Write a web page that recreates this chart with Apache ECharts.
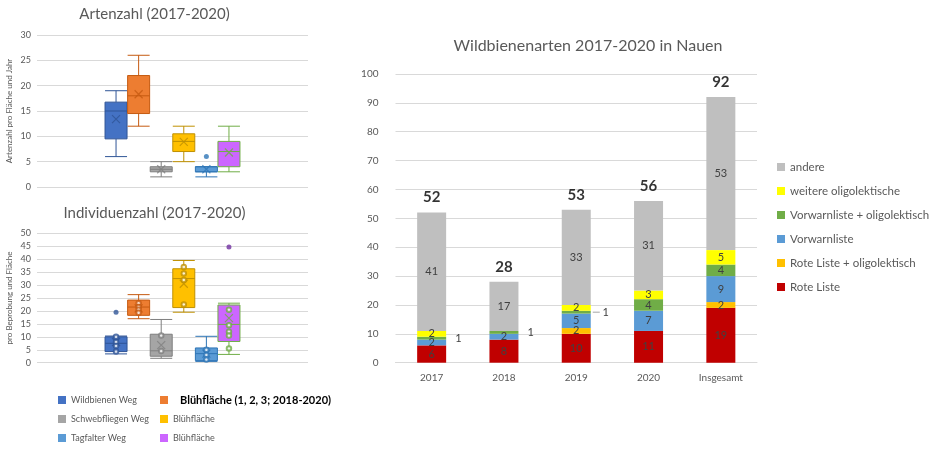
<!DOCTYPE html>
<html><head><meta charset="utf-8">
<script src="https://cdn.jsdelivr.net/npm/echarts@6/dist/echarts.min.js"></script>
<style>html,body{margin:0;padding:0;background:#fff}#c{width:934px;height:454px}</style>
</head><body><div id="c"></div><script>
// ---------- left: box plots ----------
const boxNames = ['Wildbienen Weg','Blühfläche (1, 2, 3; 2018-2020)','Schwebfliegen Weg','Blühfläche','Tagfalter Weg','Blühfläche'];
const boxColors = ['#4472c4','#ed7d31','#a5a5a5','#ffc000','#5b9bd5','#cc66ff'];
const boxBorders = ['#2f5597','#c55a11','#7f7f7f','#bf9000','#2e75b6','#70ad47'];
// [min, Q1, median, Q3, max]
const artenBoxes = [[6,9.5,15,16.75,19],[12,14.5,18,22,26],[2,3,3.5,4,5],[5,7,9,10.5,12],[2,3,3,4,4],[3,4,7,9,12]];
const artenMeans = [13.4,18.3,3.5,8.9,3.5,6.8];
const artenOutliers = [[],[],[],[],[6],[]];
const artenPoints = [[],[],[],[],[],[]];
const indivBoxes = [[3.4,4.3,7.5,10,10.3],[17,18.3,21.5,24.2,26.3],[1.7,2.5,4.6,11,16.7],[19.5,21.3,32.5,36.3,39.5],[0.5,0.8,3.5,5.7,10.2],[3.2,8.2,14.8,22.3,23]];
const indivMeans = [8,21,6.8,30.5,3.5,17.2];
const indivOutliers = [[19.5],[],[],[],[],[44.7]];
const indivPoints = [[10,8,6.5,4.3],[23,21.5,20.5,19.3],[10.5,4.5],[37,34.5,32,22.5],[5,3,1.2],[20.5,14.5,12,10.5,5.5]];

// ---------- right: stacked bars ----------
const years = ['2017','2018','2019','2020','Insgesamt'];
const rotListe = [6,8,10,11,19];
const rotOligo = [0,0,2,0,2];
const vorwarn = [2,2,5,7,9];
const vorwarnOligo = [1,1,1,4,4];
const weitereOligo = [2,0,2,3,5];
const andere = [41,17,33,31,53];
const totals = [52,28,53,56,92];

const SLOTS = 12, FIRST = 3;
const slotCats = Array.from({length:SLOTS},(_,i)=>'s'+i);
const keys = boxNames.map((n,i)=>n+'#'+i);
const strip = n => n.replace(/#\d+$/,'');
const GRAY = '#595959';
const FONT = 'Lato';

const xAxes = [], series = [];
const boxCharts = [
  {boxes: artenBoxes, means: artenMeans, outl: artenOutliers, pts: artenPoints},
  {boxes: indivBoxes, means: indivMeans, outl: indivOutliers, pts: indivPoints}
];
boxCharts.forEach((ch,g)=>{
  ch.boxes.forEach((b,k)=>{
    const ax = xAxes.length;
    xAxes.push({type:'category', gridIndex:g, data:slotCats, show:false, boundaryGap:true});
    const padded = slotCats.map((_,i)=> i===FIRST+k ? b : '-');
    series.push({type:'boxplot', name:keys[k], xAxisIndex:ax, yAxisIndex:g, data:padded,
      boxWidth:[22,22], silent:true,
      itemStyle:{color:boxColors[k], borderColor:boxBorders[k], borderWidth:1}});
    series.push({type:'scatter', xAxisIndex:ax, yAxisIndex:g, silent:true, z:5,
      data:[[FIRST+k, ch.means[k]]], symbol:'path://M0,0L10,10M10,0L0,10', symbolSize:8,
      itemStyle:{color:'none', borderColor:boxBorders[k], borderWidth:1.2}});
    if (ch.pts[k].length) series.push({type:'scatter', xAxisIndex:ax, yAxisIndex:g, silent:true, z:5,
      data:ch.pts[k].map(v=>[FIRST+k,v]), symbol:'emptyCircle', symbolSize:4.5,
      itemStyle:{color:boxBorders[k], borderWidth:1, opacity:0.8}});
    if (ch.outl[k].length) series.push({type:'scatter', xAxisIndex:ax, yAxisIndex:g, silent:true, z:5,
      data:ch.outl[k].map(v=>[FIRST+k,v]), symbol:'circle', symbolSize:5,
      itemStyle:{color:k===5?'#7030a0':boxBorders[k]}});
  });
});

const barAx = xAxes.length;
xAxes.push({type:'category', gridIndex:2, data:years,
  axisLine:{lineStyle:{color:'#d9d9d9'}}, axisTick:{show:false},
  axisLabel:{fontSize:10, color:GRAY, margin:10, fontFamily:FONT}});

const leaderYear = years.indexOf('2019');
const barDefs = [
  ['Rote Liste', rotListe, '#c00000'],
  ['Rote Liste + oligolektisch', rotOligo, '#ffc000'],
  ['Vorwarnliste', vorwarn, '#5b9bd5'],
  ['Vorwarnliste + oligolektisch', vorwarnOligo, '#70ad47'],
  ['weitere oligolektische', weitereOligo, '#ffff00'],
  ['andere', andere, '#bfbfbf']
];
barDefs.forEach(([name, arr, color], si)=>{
  series.push({type:'bar', name, stack:'total', xAxisIndex:barAx, yAxisIndex:2, barWidth:29,
    silent:true, itemStyle:{color},
    label:{show:true, position:'inside', fontSize:11, color:'#404040', fontFamily:FONT,
      formatter:p=> p.value ? String(p.value) : ''},
    data: arr.map((v,i)=>{
      if (si===3 && v===1) {
        return {value:v, label:{position:'right', distance: i===leaderYear?2:9,
          formatter: i===leaderYear ? '{l|}{t| 1}' : '1',
          rich:{l:{width:7,height:1,backgroundColor:'#a5a5a5'}, t:{fontSize:11,color:'#404040',fontFamily:FONT}}}};
      }
      return v;
    })});
});
series.push({type:'scatter', xAxisIndex:barAx, yAxisIndex:2, silent:true, data:totals,
  symbolSize:1, itemStyle:{color:'transparent'},
  label:{show:true, position:'top', distance:7, fontSize:15, fontWeight:'bold', color:'#000', fontFamily:FONT}});

const valAxis = (g, max, name) => ({type:'value', gridIndex:g, min:0, max, interval: g===2?10:5,
  axisLine:{show:false}, axisTick:{show:false},
  splitLine:{lineStyle:{color:'#d9d9d9', width:1}},
  axisLabel:{fontSize: g===2?10:9, color:GRAY, margin: g===2?17:6, fontFamily:FONT},
  name, nameLocation:'middle', nameRotate:90, nameGap: 24,
  nameTextStyle:{fontSize:8, color:GRAY, fontFamily:FONT}});

const legItem = k => ({name:keys[k], itemStyle:{color:boxColors[k], borderWidth:0}});

const option = {
  animation:false,
  textStyle:{fontFamily:FONT},
  title:[
    {text:'Artenzahl (2017-2020)', left:154.5, textAlign:'center', top:7, padding:0,
      textStyle:{fontSize:15, fontWeight:'normal', color:GRAY, fontFamily:FONT}},
    {text:'Individuenzahl (2017-2020)', left:154.5, textAlign:'center', top:206, padding:0,
      textStyle:{fontSize:15, fontWeight:'normal', color:GRAY, fontFamily:FONT}},
    {text:'Wildbienenarten 2017-2020 in Nauen', left:588, textAlign:'center', top:38, padding:0,
      textStyle:{fontSize:16, fontWeight:'normal', color:GRAY, fontFamily:FONT}}
  ],
  grid:[
    {left:37, top:35, width:271, height:152},
    {left:37, top:233.3, width:271, height:129.4},
    {left:395.5, top:74, width:361.5, height:288.7}
  ],
  xAxis:xAxes,
  yAxis:[
    valAxis(0,30,'Artenzahl pro Fläche und Jahr'),
    valAxis(1,50,'pro Beprobung und Fläche'),
    valAxis(2,100,'')
  ],
  legend:[
    {orient:'vertical', left:58, top:394, padding:0, itemWidth:8, itemHeight:8, itemGap:7, icon:'rect',
      selectedMode:false, formatter:strip,
      textStyle:{fontSize:9, color:GRAY, lineHeight:12, fontFamily:FONT},
      data:[legItem(0), legItem(2), legItem(4)]},
    {orient:'vertical', left:160, top:394, padding:0, itemWidth:8, itemHeight:8, itemGap:7, icon:'rect',
      selectedMode:false, formatter:strip,
      textStyle:{fontSize:9, color:GRAY, lineHeight:12, fontFamily:FONT},
      data:[Object.assign(legItem(1), {textStyle:{fontSize:11, fontWeight:'bold', color:'#000', padding:[0,0,0,7]}}), legItem(3), legItem(5)]},
    {orient:'vertical', left:777, top:161, padding:0, itemWidth:8, itemHeight:8, itemGap:12, icon:'rect',
      selectedMode:false, itemStyle:{borderWidth:0},
      textStyle:{fontSize:11.5, color:GRAY, fontFamily:FONT},
      data:['andere','weitere oligolektische','Vorwarnliste + oligolektisch','Vorwarnliste','Rote Liste + oligolektisch','Rote Liste']}
  ],
  series
};
const chart = echarts.init(document.getElementById('c'), null, {renderer:'canvas'});
chart.setOption(option);
</script></body></html>
